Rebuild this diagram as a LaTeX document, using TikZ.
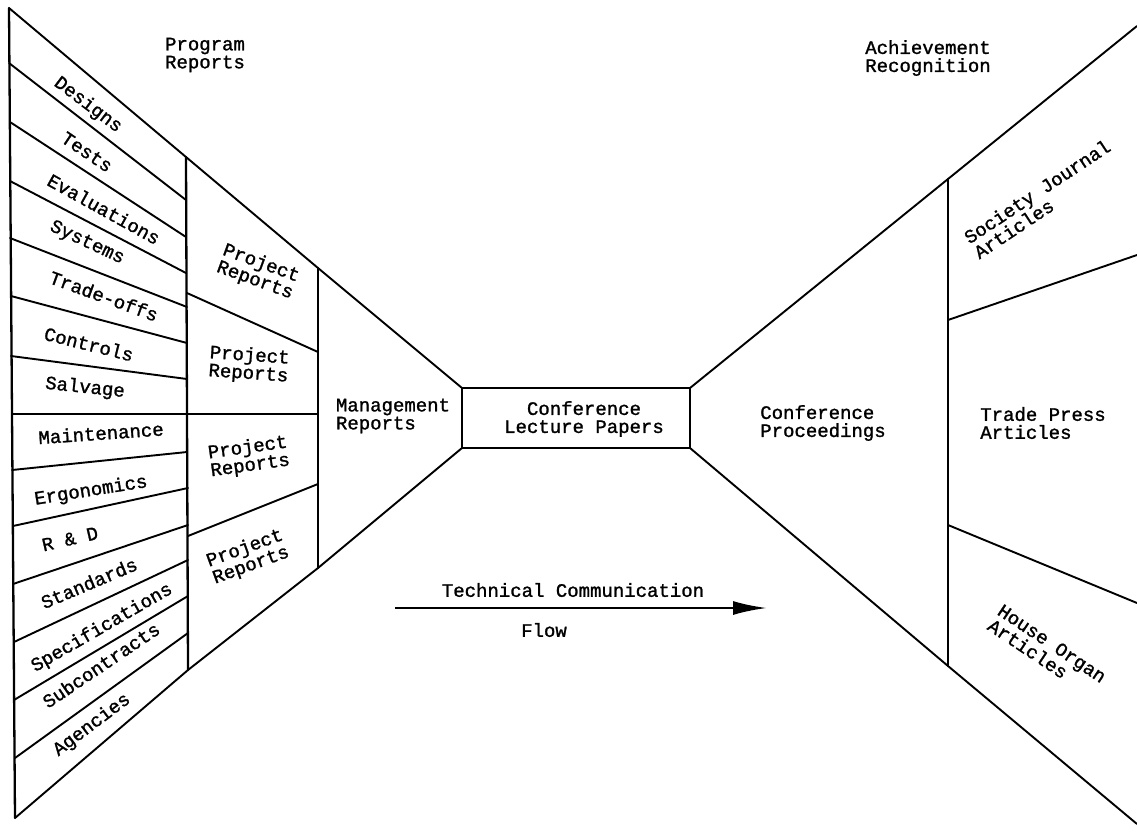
\documentclass[tikz,border=0pt]{standalone}
\usepackage{fontspec}
\newfontfamily\tw[FakeBold=1.3]{Liberation Mono}
\usetikzlibrary{arrows.meta}
\begin{document}
\begin{tikzpicture}[x=1pt,y=-1pt,line width=1.9pt,line join=round,line cap=round,
  lab/.style={font=\tw\fontsize{19}{18}\selectfont,inner sep=0pt,align=left},
  labc/.style={font=\tw\fontsize{19}{18}\selectfont,inner sep=0pt,align=center},
  wall/.style={line width=2.3pt}]
\useasboundingbox (0,0) rectangle (1137,831);
% left outer edge points
\coordinate (L0) at (9,8);
\coordinate (L1) at (9,63);
\coordinate (L2) at (10,122);
\coordinate (L3) at (10,181);
\coordinate (L4) at (10,238);
\coordinate (L5) at (11,296);
\coordinate (L6) at (11,356);
\coordinate (L7) at (12,414);
\coordinate (L8) at (12,470);
\coordinate (L9) at (13,526);
\coordinate (L10) at (13,584);
\coordinate (L11) at (14,642);
\coordinate (L12) at (14,700);
\coordinate (L13) at (15,758);
\coordinate (L14) at (15,818);
% first column line
\coordinate (R0) at (186,157);
\coordinate (R1) at (186,200);
\coordinate (R2) at (186,237);
\coordinate (R3) at (186,273);
\coordinate (R4) at (187,307);
\coordinate (R5) at (187,343);
\coordinate (R6) at (187,379);
\coordinate (R7) at (187,414);
\coordinate (R8) at (187,452);
\coordinate (R9) at (188,488);
\coordinate (R10) at (188,525);
\coordinate (R11) at (188,560);
\coordinate (R12) at (188,596);
\coordinate (R13) at (188,633);
\coordinate (R14) at (188,670);
\coordinate (P1) at (187,293);
\coordinate (P3) at (188,536);
% second column line
\coordinate (Q0) at (318,268);
\coordinate (Q1) at (318,352);
\coordinate (Q2) at (318,414);
\coordinate (Q3) at (318,484);
\coordinate (Q4) at (318,568);
% box
\coordinate (B1) at (462,388);
\coordinate (B2) at (690,388);
\coordinate (B3) at (690,448);
\coordinate (B4) at (462,448);
% right column
\coordinate (S0) at (948,179);
\coordinate (S1) at (948,320);
\coordinate (S2) at (948,525);
\coordinate (S3) at (948,666);
\coordinate (E0) at (1137,26);
\coordinate (E1) at (1137,255);
\coordinate (E2) at (1137,603);
\coordinate (E3) at (1137,824);

% outline
\draw (L0) -- (R0) -- (Q0) -- (B1);
\draw (L14) -- (R14) -- (Q4) -- (B4);
\draw[wall] (L0) -- (L14);
\draw[wall] (R0) -- (R14);
\draw[wall] (Q0) -- (Q4);
\foreach \i in {1,...,13} \draw (L\i) -- (R\i);
\draw (P1) -- (Q1);
\draw (R7) -- (Q2);
\draw (P3) -- (Q3);
\draw (B1) rectangle (B3);
\draw (B2) -- (S0) -- (E0);
\draw (B3) -- (S3) -- (E3);
\draw[wall] (S0) -- (S3);
\draw (S1) -- (E1);
\draw (S2) -- (E2);

% labels
\node[lab] (prog) at (205,55) {Program\\Reports};
\node[lab] (ach) at (928,58) {Achievement\\Recognition};
\node[lab,rotate=-37] (designs) at (88,105) {Designs};
\node[lab,rotate=-34] (tests) at (87,152) {Tests};
\node[lab,rotate=-29] (evals) at (104,209) {Evaluations};
\node[lab,rotate=-25] (systems) at (87,243) {Systems};
\node[lab,rotate=-20] (trade) at (104,296) {Trade-offs};
\node[lab,rotate=-14] (controls) at (89,344) {Controls};
\node[lab,rotate=-6] (salvage) at (85,388) {Salvage};
\node[lab,rotate=4] (maint) at (101,433) {Maintenance};
\node[lab,rotate=9] (ergo) at (91,491) {Ergonomics};
\node[lab,rotate=13] (rd) at (70,539) {R \& D};
\node[lab,rotate=23] (stand) at (89,583) {Standards};
\node[lab,rotate=30] (spec) at (102,628) {Specifications};
\node[lab,rotate=34] (sub) at (101,665) {Subcontracts};
\node[lab,rotate=37] (agen) at (92,725) {Agencies};
\node[labc,rotate=-20] (pr1) at (258,272) {Project\\Reports};
\node[labc,rotate=-4] (pr2) at (249,365) {Project\\Reports};
\node[labc,rotate=8] (pr3) at (249,457) {Project\\Reports};
\node[labc,rotate=20] (pr4) at (248,557) {Project\\Reports};
\node[lab] (mgmt) at (393,416) {Management\\Reports};
\node[labc] (clp) at (584,419) {Conference\\Lecture Papers};
\node[lab] (cp) at (823,423) {Conference\\Proceedings};
\node[lab,rotate=33.6] (sja) at (1042,199) {Society Journal\\Articles};
\node[lab] (tpa) at (1043,423) {Trade Press\\Articles};
\node[lab,rotate=-33.7] (hoa) at (1047,651) {House Organ\\Articles};
% flow arrow
\coordinate (A0) at (395,608);
\coordinate (A1) at (767,608);
\draw[line width=2.6pt,line cap=butt,-{Latex[length=34pt,width=14pt]}] (A0) -- (A1);
\node[lab] (tc) at (573,590) {Technical Communication};
\node[lab] (flow) at (544,630) {Flow};
\end{tikzpicture}
\end{document}
